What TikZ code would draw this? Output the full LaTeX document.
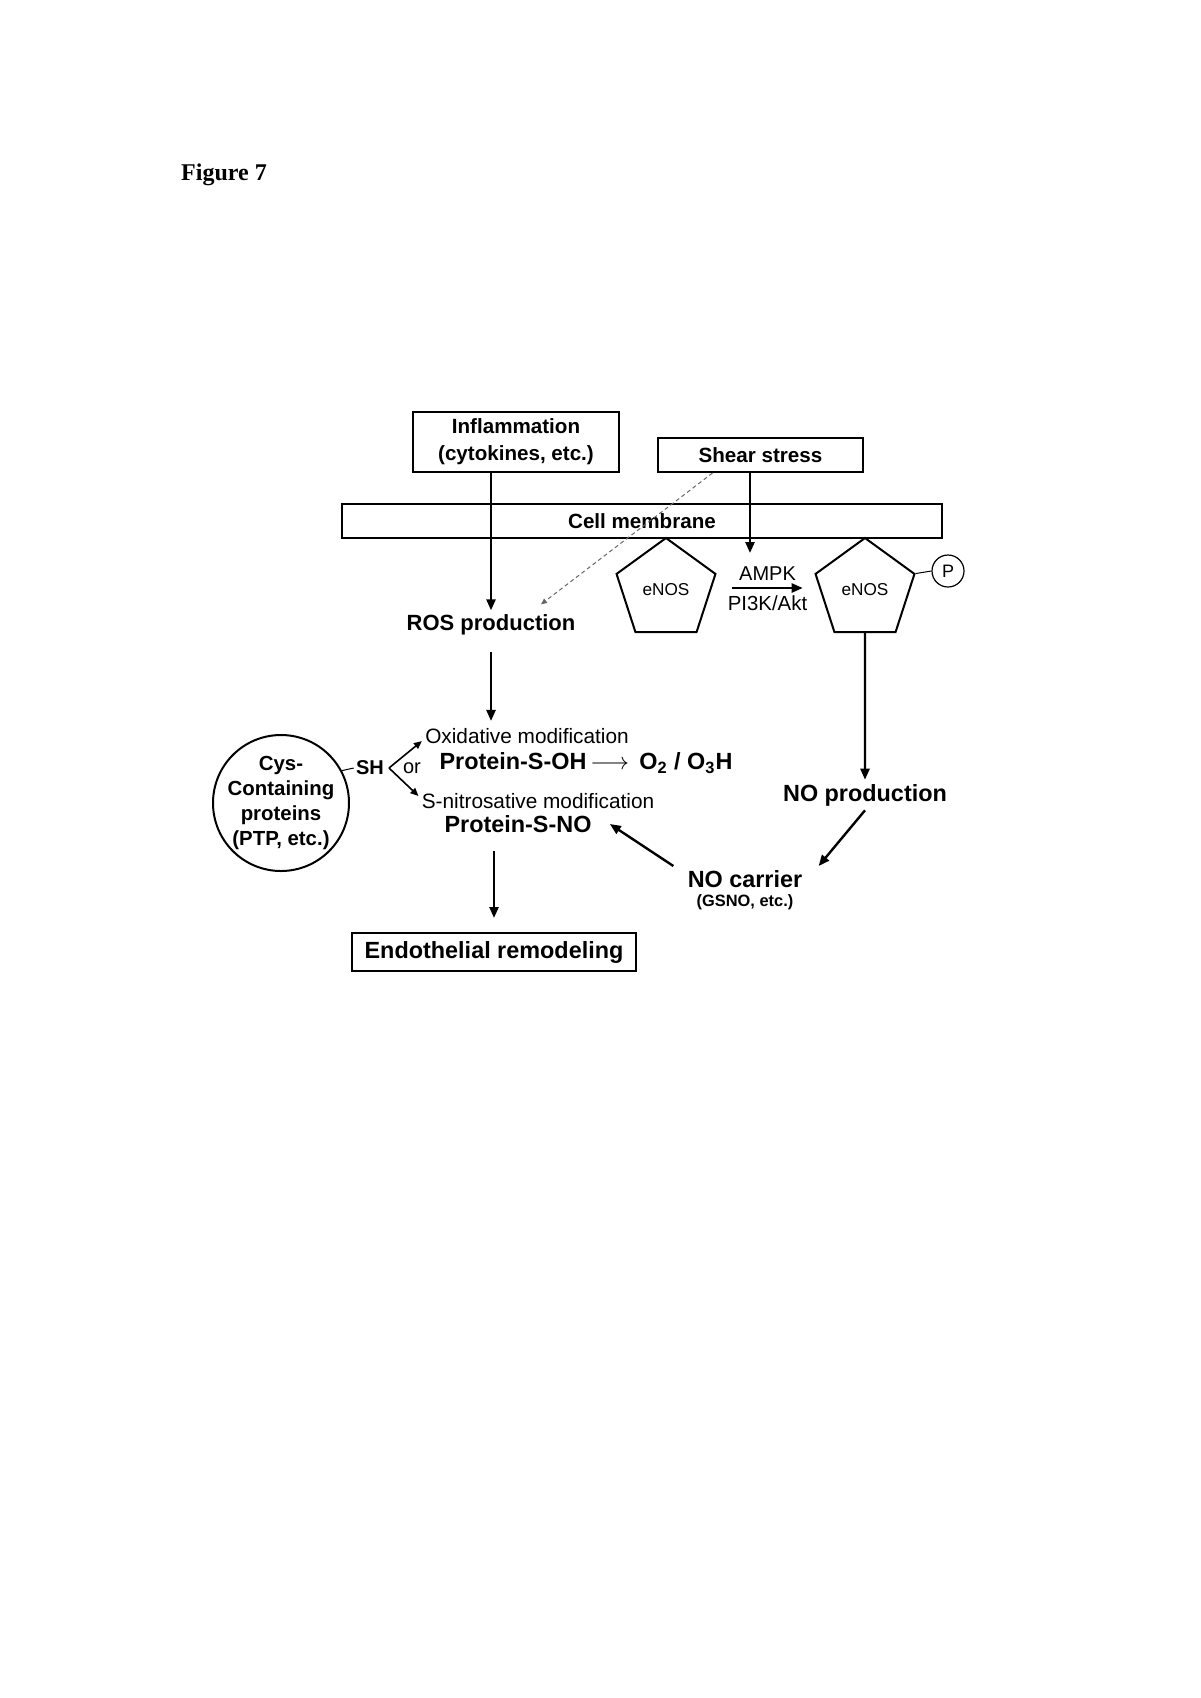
\documentclass[tikz,border=0pt]{standalone}
\usepackage{fontspec}
\setsansfont{Liberation Sans}
\newfontfamily\figfont{Liberation Serif}
\usepackage{tikz}
\usetikzlibrary{arrows.meta, positioning, shapes.geometric}

\begin{document}
\begin{tikzpicture}[x=0.5pt, y=-0.5pt,
  box/.style={draw, line width=1pt, align=center, inner sep=0pt,
              font=\sffamily\bfseries\fontsize{10.3}{13.5}\selectfont},
  lbl/.style={inner sep=1pt, font=\sffamily\bfseries\fontsize{11.7}{14}\selectfont},
  mod/.style={inner sep=0.5pt, font=\sffamily\fontsize{10.4}{12}\selectfont},
  penta/.style={draw, line width=1pt, regular polygon, regular polygon sides=5,
                minimum size=52pt, inner sep=0pt, font=\sffamily\fontsize{8.6}{10}\selectfont},
  arr/.style={-{Triangle[length=5.5pt,width=4.5pt]}, line width=1.2pt},
  thinarr/.style={-{Triangle[length=4pt,width=3.5pt]}, line width=0.8pt},
  dasharr/.style={-{Triangle[length=3pt,width=2.6pt]}, line width=0.5pt, gray!80!black,
                  dash pattern=on 2pt off 1.5pt},
]
\useasboundingbox (0,0) rectangle (1200,1698);

\node[font=\figfont\bfseries\fontsize{12}{14}\selectfont] (title) at (224,175) {Figure 7};

\node[box, minimum width=103pt, minimum height=30pt] (inflam) at (516,442)
  {Inflammation\\(cytokines, etc.)};
\node[box, minimum width=102.5pt, minimum height=17pt] (shear) at (760.5,455) {Shear stress};
\node[box, minimum width=300pt, minimum height=17pt] (membrane) at (642,521) {Cell membrane};

\node[lbl, inner sep=2pt, font=\sffamily\bfseries\fontsize{11}{13}\selectfont] (ros) at (491,625) {ROS production};
\node[penta] (enos) at (666,590) {eNOS};
\node[penta] (enosp) at (865,590) {eNOS};
\node[draw, circle, line width=0.6pt, minimum size=16pt, inner sep=0pt,
      font=\sffamily\fontsize{9}{10}\selectfont] (pcirc) at (948,571) {P};
\node[lbl, inner sep=2pt] (noprod) at (865,795) {NO production};

\node[draw, circle, line width=1pt, minimum size=68pt, inner sep=-8pt, align=center,
      font=\sffamily\bfseries\fontsize{10.2}{12.6}\selectfont] (cys) at (281,803)
  {Cys-\\Containing\\proteins\\(PTP, etc.)};
\node[inner sep=1pt, font=\sffamily\bfseries\fontsize{10}{12}\selectfont] (sh) at (370,768) {SH};
\node[inner sep=1pt, font=\sffamily\fontsize{10}{12}\selectfont] (orlbl) at (412,768) {or};
\node[mod] (oxmod) at (527,736) {Oxidative modification};
\node[lbl, inner sep=0.5pt] (psoh) at (586,763) {Protein-S-OH\,$\longrightarrow$\, O\textsubscript{2} / O\textsubscript{3}H};
\node[mod] (nitmod) at (538,801) {S-nitrosative modification};
\node[lbl, inner sep=2pt] (psno) at (518,824) {Protein-S-NO};
\node[lbl, inner sep=2pt] (nocarrier) at (745,879) {NO carrier};
\node[below=0pt of nocarrier, inner sep=1pt,
      font=\sffamily\bfseries\fontsize{8.2}{10}\selectfont] (gsno) {(GSNO, etc.)};
\node[box, minimum width=142pt, minimum height=19pt,
      font=\sffamily\bfseries\fontsize{11.7}{14}\selectfont] (remod) at (494,952) {Endothelial remodeling};

\coordinate (shearend) at (750,553);
\coordinate (fork) at (389,768);

\draw[arr] (inflam.south -| ros.north) -- (ros.north);
\draw[arr] (shear.south -| shearend) -- (shearend);
\draw[dasharr] ([xshift=-24pt]shear.south) -- ([xshift=25pt,yshift=3pt]ros.north);
\draw[arr] ([xshift=10.5pt,yshift=1pt]enos.east) --
  node[above, font=\sffamily\fontsize{10}{12}\selectfont] {AMPK}
  node[below, font=\sffamily\fontsize{10.2}{12}\selectfont] {PI3K/Akt}
  ([xshift=-8.5pt,yshift=1pt]enosp.west);
\draw[line width=0.5pt] (enosp.corner 5) -- (pcirc.west);
\draw[arr] (enosp.south) -- (noprod.north);
\draw[arr] (noprod.south) -- ([xshift=6pt]nocarrier.north east);
\draw[arr] ([xshift=-5pt]nocarrier.north west) -- ([xshift=7pt]psno.east);
\draw[arr, shorten <=6pt, shorten >=3pt] (ros.south) -- (ros.south |- oxmod.north);
\draw[arr, shorten <=7pt, shorten >=7pt] (psno.south -| remod.north) -- (remod.north);
\draw[line width=0.5pt] (cys.28) -- (sh.west);
\draw[thinarr] (fork) -- ([xshift=-1pt,yshift=2pt]oxmod.south west);
\draw[thinarr] (fork) -- ([xshift=-1pt,yshift=-2pt]nitmod.north west);
\end{tikzpicture}
\end{document}
